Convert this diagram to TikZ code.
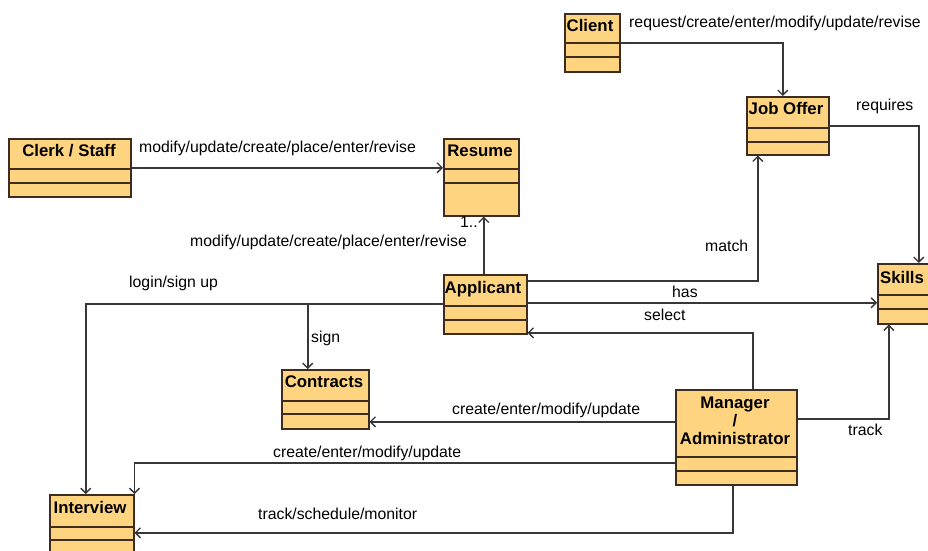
\documentclass[tikz,border=0pt]{standalone}
\usepackage{fontspec}
\setmainfont{Liberation Sans}
\usetikzlibrary{arrows.meta,calc}

\definecolor{clsfill}{RGB}{255,212,128}
\definecolor{clsline}{RGB}{62,44,30}
\definecolor{wire}{RGB}{55,55,55}

\tikzset{
  clsbox/.style={draw=clsline, fill=clsfill, line width=1.5pt, inner sep=0pt,
                 anchor=north west, rectangle},
  clsdiv/.style={draw=clsline, line width=1.5pt},
  clsname/.style={font=\bfseries\fontsize{16.8}{18}\selectfont, anchor=base,
                  inner sep=0pt, align=center},
  conn/.style={draw=wire, line width=1.6pt,
               -{Straight Barb[length=5pt,width=10pt,line width=1.4pt]}},
  lbl/.style={font=\fontsize{15.8}{18}\selectfont, anchor=base west, inner sep=0pt},
}

% a class box: name, left, top, right, bottom, first divider, second divider
\newcommand\umlclass[7]{%
  \node[clsbox, minimum width={#4pt-#2pt}, minimum height={#5pt-#3pt}] (#1) at (#2,#3) {};
  \draw[clsdiv] (#2,#6) -- (#4,#6);
  \draw[clsdiv] (#2,#7) -- (#4,#7);
}

\begin{document}
\begin{tikzpicture}[x=1pt,y=-1pt]
  \path[use as bounding box, clip] (0,0) rectangle (928,550);
  \fill[white] (0,0) rectangle (928,550);

  % classes
  \umlclass{clerk}{8}{138}{130}{196}{169}{183}
  \umlclass{resume}{443}{138}{518}{215}{169}{183}
  \umlclass{client}{564}{13}{619}{71}{43}{57}
  \umlclass{joboffer}{746}{96}{828}{154}{128}{142}
  \umlclass{applicant}{443}{274}{526}{333}{306}{320}
  \umlclass{skills}{877}{263}{929}{323}{295}{309}
  \umlclass{contracts}{281}{369}{368}{428}{401}{414}
  \umlclass{manager}{675}{389}{796}{484}{457}{471}
  \umlclass{interview}{49}{494}{133}{554}{527}{540}

  % class names
  \node[clsname] (nclerk) at (69,156) {Clerk / Staff};
  \node[clsname] (nresume) at (480,156) {Resume};
  \node[clsname] (nclient) at (590,31) {Client};
  \node[clsname] (njoboffer) at (786,114) {Job Offer};
  \node[clsname] (napplicant) at (483,293) {Applicant};
  \node[clsname] (nskills) at (902,283) {Skills};
  \node[clsname] (ncontracts) at (324,387) {Contracts};
  \node[clsname] (ninterview) at (90,513) {Interview};
  \node[clsname] (nmanager) at (735,444) {Manager\\/\\Administrator};

  % associations
  \draw[conn] (clerk.east) -- (clerk.east -| resume.west);
  \draw[conn] ([xshift=-1.5pt]applicant.north) -- ([xshift=-1.5pt]applicant.north |- resume.south);
  \draw[conn] (client.east) -| ([xshift=-5pt]joboffer.north);
  \draw[conn] (joboffer.east) -| ([xshift=15pt]skills.north);
  \draw[conn] ([yshift=23.5pt]applicant.east) -| ([xshift=-30pt]joboffer.south);
  \draw[conn] ([yshift=1.5pt]applicant.east) -- ([yshift=1.5pt]applicant.east -| skills.west);
  \draw[conn] ([xshift=16.5pt]manager.north) |- ([yshift=-28.5pt]applicant.east);
  \draw[conn] (applicant.west) -| ([xshift=-6pt]interview.north);
  \draw[conn] ([xshift=-17.5pt]contracts.north |- applicant.west) -- ([xshift=-17.5pt]contracts.north);
  \draw[conn] ([yshift=15.5pt]manager.west) -- ([yshift=15.5pt]manager.west -| contracts.east);
  \draw[conn] ([yshift=-25.5pt]manager.west) -| (interview.north east);
  \draw[conn] ([xshift=-3.5pt]manager.south) |- ([yshift=-8pt]interview.east);
  \draw[conn] ([yshift=18.5pt]manager.east) -| ([xshift=-15pt]skills.south);

  % association labels
  \node[lbl] (l1) at (139,152) {modify/update/create/place/enter/revise};
  \node[lbl] (l2) at (190,246) {modify/update/create/place/enter/revise};
  \node[lbl] (l3) at (460,227) {1..};
  \node[lbl] (l4) at (629,27) {request/create/enter/modify/update/revise};
  \node[lbl] (l5) at (856,110) {requires};
  \node[lbl] (l6) at (705,251) {match};
  \node[lbl] (l7) at (672,297) {has};
  \node[lbl] (l8) at (644,320) {select};
  \node[lbl] (l9) at (129,287) {login/sign up};
  \node[lbl] (l10) at (311,342) {sign};
  \node[lbl] (l11) at (452,414) {create/enter/modify/update};
  \node[lbl] (l12) at (273,457) {create/enter/modify/update};
  \node[lbl] (l13) at (258,519) {track/schedule/monitor};
  \node[lbl] (l14) at (848,435) {track};
\end{tikzpicture}
\end{document}
